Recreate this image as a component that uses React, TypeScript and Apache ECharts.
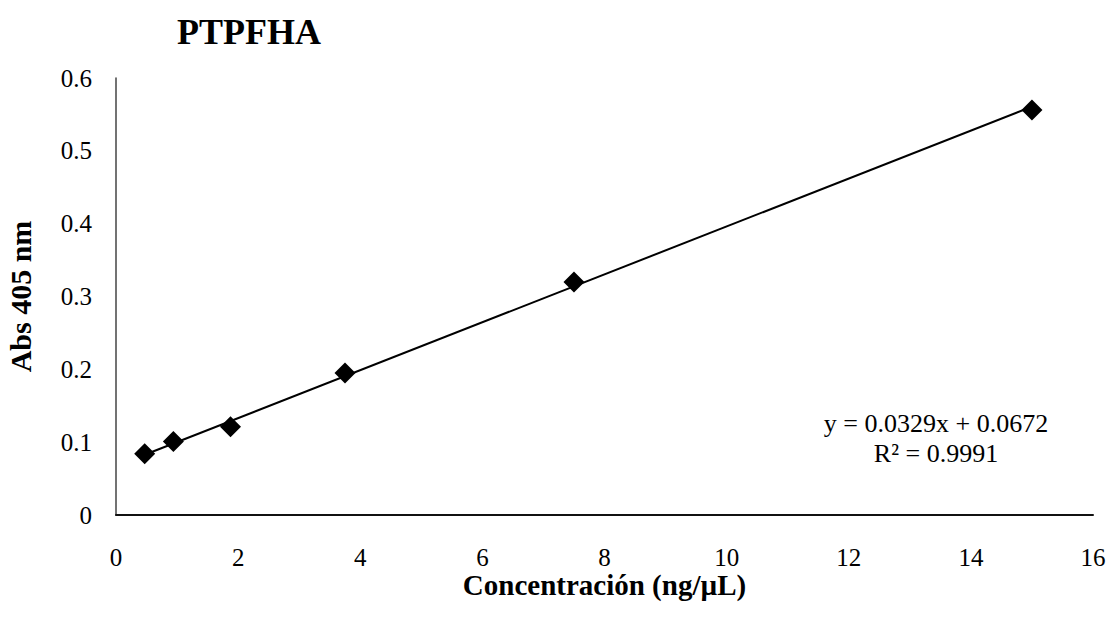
import React, { useEffect, useRef } from "react";
import * as echarts from "echarts";

const titleText = "PTPFHA";
const xAxisName = "Concentración (ng/µL)";
const yAxisName = "Abs 405 nm";
const concentrations = [0.47, 0.94, 1.875, 3.75, 7.5, 15];
const absorbances = [0.084, 0.101, 0.121, 0.195, 0.32, 0.556];
const slope = 0.0329;
const intercept = 0.0672;
const equationLines = ["y = 0.0329x + 0.0672", "R² = 0.9991"];

const FONT = "'Liberation Serif', 'Times New Roman', serif";

export default function App() {
  const ref = useRef<HTMLDivElement>(null);
  useEffect(() => {
    if (!ref.current) return;
    const chart = echarts.init(ref.current, undefined, { renderer: "svg" });
    const points = concentrations.map((c, i) => [c, absorbances[i]]);
    const xMin = Math.min(...concentrations);
    const xMax = Math.max(...concentrations);
    const trend = [
      [xMin, slope * xMin + intercept],
      [xMax, slope * xMax + intercept],
    ];
    chart.setOption({
      animation: false,
      backgroundColor: "#ffffff",
      textStyle: { fontFamily: FONT, color: "#000" },
      title: {
        text: titleText,
        left: 177,
        top: 14,
        padding: 0,
        textStyle: { fontFamily: FONT, fontSize: 36, fontWeight: "bold", color: "#000" },
      },
      grid: {
        left: 116,
        right: 17,
        top: 78,
        bottom: 108,
        containLabel: false,
        outerBoundsMode: "none",
      },
      xAxis: {
        type: "value",
        min: 0,
        max: 16,
        interval: 2,
        name: xAxisName,
        nameLocation: "middle",
        nameGap: 55,
        nameMoveOverlap: false,
        nameTextStyle: { fontFamily: FONT, fontSize: 29, fontWeight: "bold", color: "#000" },
        axisLine: { show: true, onZero: false, lineStyle: { color: "#111", width: 2 } },
        axisTick: { show: false },
        splitLine: { show: false },
        axisLabel: { fontFamily: FONT, fontSize: 25, color: "#000", margin: 30 },
      },
      yAxis: {
        type: "value",
        min: 0,
        max: 0.6,
        interval: 0.1,
        name: yAxisName,
        nameLocation: "middle",
        nameGap: 81,
        nameMoveOverlap: false,
        nameTextStyle: { fontFamily: FONT, fontSize: 30, fontWeight: "bold", color: "#000" },
        axisLine: { show: true, onZero: false, lineStyle: { color: "#444", width: 1.5 } },
        axisTick: { show: false },
        splitLine: { show: false },
        axisLabel: {
          fontFamily: FONT,
          fontSize: 25,
          color: "#000",
          margin: 24,
          formatter: (v: number) => String(Number(v.toFixed(1))),
        },
      },
      graphic: equationLines.map((t, i) => ({
        type: "text",
        x: 936,
        y: 423 + i * 30,
        style: {
          text: t,
          fontFamily: FONT,
          fontSize: 26,
          fill: "#000",
          align: "center",
          verticalAlign: "middle",
        },
      })),
      series: [
        {
          type: "line",
          data: trend,
          showSymbol: false,
          symbol: "none",
          lineStyle: { color: "#000", width: 2 },
          z: 2,
          silent: true,
        },
        {
          type: "scatter",
          data: points,
          symbol: "diamond",
          symbolSize: 21,
          itemStyle: { color: "#000", opacity: 1 },
          z: 3,
        },
      ],
    });
    return () => chart.dispose();
  }, []);
  return (
    <div
      ref={ref}
      style={{ position: "fixed", left: 0, top: 0, width: 1110, height: 623, background: "#fff" }}
    />
  );
}
